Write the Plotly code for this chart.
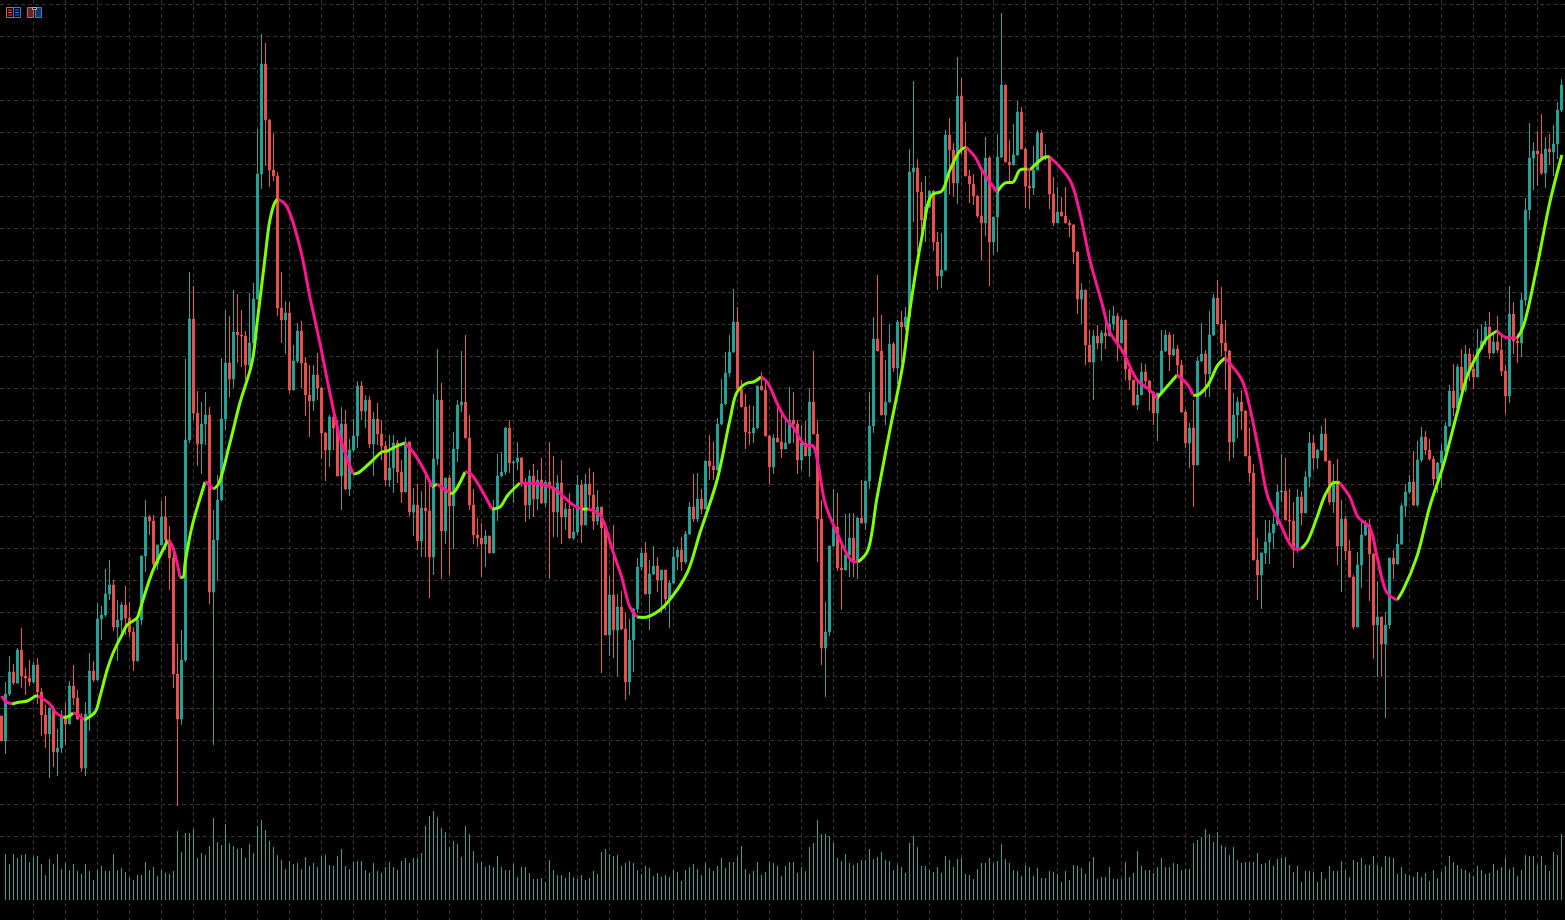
import plotly.graph_objects as go

close_ = [179,226,248,237,270,244,242,238,255,228,
205,186,212,168,172,204,196,234,222,201,
152,206,249,240,301,305,326,335,293,300,
315,302,288,259,300,364,403,399,356,375,
403,380,362,246,201,260,480,601,507,476,
496,505,328,380,420,501,557,541,588,585,
584,555,577,621,746,856,800,750,744,612,
600,607,530,559,589,557,525,519,545,532,
487,470,503,492,444,496,431,470,484,534,
509,520,476,501,486,474,440,452,477,448,
428,478,408,415,379,412,409,363,461,520,
389,442,414,471,515,518,482,415,385,382,
376,384,367,411,444,448,492,457,458,462,
437,415,444,421,440,417,438,433,408,437,
403,411,382,388,435,395,436,425,399,413,
392,285,325,290,313,291,238,280,311,353,
367,326,346,354,340,350,321,337,363,370,
358,386,413,401,421,411,459,454,450,496,
516,547,568,598,531,513,488,487,492,534,
530,484,453,482,478,471,477,500,496,460,
477,464,518,486,401,272,288,374,393,352,
350,365,382,358,402,397,439,494,581,569,
505,518,576,552,598,593,603,748,752,728,
700,713,729,678,644,650,785,770,737,824,
770,744,736,724,704,697,762,678,703,763,
835,758,755,765,808,771,734,732,750,787,
762,763,726,697,708,704,697,695,668,621,
630,575,558,584,577,587,584,596,604,577,
600,551,540,515,525,548,539,528,507,527,
569,585,565,571,555,508,477,492,455,559,
566,546,585,622,596,577,569,478,505,518,
509,464,447,360,345,367,378,387,396,428,
429,400,399,370,423,407,443,477,462,470,
486,459,418,439,374,401,369,343,293,355,
385,395,366,295,303,276,295,362,356,376,
414,428,438,415,460,483,470,461,441,457,
469,494,529,512,553,530,566,551,543,571,
579,593,567,578,570,549,524,606,579,577,
620,710,762,769,766,747,771,768,776,810,835]

open_ = [204,179,226,248,237,270,244,242,238,255,228,
205,186,212,168,172,204,196,234,222,201,
152,206,249,240,301,305,326,335,293,300,
315,302,288,259,300,364,403,399,356,375,
403,380,362,246,201,260,480,601,507,476,
496,505,328,380,420,501,557,541,588,585,
584,555,577,621,746,856,800,750,744,612,
600,607,530,559,589,557,525,519,545,532,
487,470,503,492,444,496,431,470,484,534,
509,520,476,501,486,474,440,452,477,448,
428,478,408,415,379,412,409,363,461,520,
389,442,414,471,515,518,482,415,385,382,
376,384,367,411,444,448,492,457,458,462,
437,415,444,421,440,417,438,433,408,437,
403,411,382,388,435,395,436,425,399,413,
392,285,325,290,313,291,238,280,311,353,
367,326,346,354,340,350,321,337,363,370,
358,386,413,401,421,411,459,454,450,496,
516,547,568,598,531,513,488,487,492,534,
530,484,453,482,478,471,477,500,496,460,
477,464,518,486,401,272,288,374,393,352,
350,365,382,358,402,397,439,494,581,569,
505,518,576,552,598,593,603,748,752,728,
700,713,729,678,644,650,785,770,737,824,
770,744,736,724,704,697,762,678,703,763,
835,758,755,765,808,771,734,732,750,787,
762,763,726,697,708,704,697,695,668,621,
630,575,558,584,577,587,584,596,604,577,
600,551,540,515,525,548,539,528,507,527,
569,585,565,571,555,508,477,492,455,559,
566,546,585,622,596,577,569,478,505,518,
509,464,447,360,345,367,378,387,396,428,
429,400,399,370,423,407,443,477,462,470,
486,459,418,439,374,401,369,343,293,355,
385,395,366,295,303,276,295,362,356,376,
414,428,438,415,460,483,470,461,441,457,
469,494,529,512,553,530,566,551,543,571,
579,593,567,578,570,549,524,606,579,577,
620,710,762,769,766,747,771,768,776,810]

high_ = [204,238,264,256,272,292,252,260,258,262,
232,215,212,214,191,210,217,239,255,230,
207,218,267,259,317,314,351,360,340,320,
318,334,318,293,302,364,420,405,405,365,
419,424,394,370,276,290,561,648,634,529,
518,528,513,410,445,562,610,604,630,626,
610,589,627,637,791,886,877,801,787,748,
648,619,618,575,597,599,563,555,555,567,
533,488,505,510,500,513,510,481,501,539,
539,525,524,508,517,500,479,485,485,480,
460,483,478,432,436,429,450,440,526,571,
537,442,445,488,520,569,585,505,431,402,
397,390,384,420,466,468,493,500,460,478,
463,442,450,456,450,462,440,478,464,445,
460,417,427,412,445,440,446,452,448,430,
413,395,344,395,326,329,307,301,312,362,
372,378,360,374,363,350,350,340,373,373,
383,389,418,446,447,431,459,485,478,502,
541,568,585,631,613,540,526,515,514,534,
548,540,485,486,516,505,500,533,528,500,
495,499,532,569,500,420,318,374,431,427,
380,406,407,407,403,440,439,528,603,645,
605,560,596,578,600,609,613,771,839,761,
738,744,729,730,688,687,790,802,777,863,
842,798,750,746,725,750,783,764,703,786,
907,835,780,796,819,813,773,750,774,790,
790,776,763,743,733,723,733,700,696,669,
637,630,590,590,595,590,600,610,614,607,
603,600,552,540,538,557,556,540,528,527,
590,590,588,586,575,560,510,497,520,563,
597,570,609,626,640,633,600,570,527,523,
530,510,492,456,382,367,400,400,405,435,
466,462,431,418,431,429,449,488,485,471,
494,502,460,456,461,420,404,380,345,368,
400,400,401,367,339,303,308,362,370,386,
417,436,445,469,479,493,489,481,464,458,
476,498,535,556,556,571,575,572,566,591,
596,599,608,586,604,586,555,634,618,586,
627,722,797,778,789,806,783,786,795,818,841]

low_ = [179,166,224,235,236,232,225,234,236,216,
184,172,142,153,144,167,175,196,215,200,
148,144,189,238,240,280,303,320,289,259,
285,285,283,249,259,295,348,385,354,350,
380,370,330,232,114,195,258,477,500,454,
446,475,316,175,339,419,490,523,532,557,
553,540,553,577,620,731,754,733,739,604,
577,566,527,530,557,532,504,483,509,520,
461,439,453,470,444,410,430,424,468,472,
500,492,472,444,475,460,434,433,427,437,
417,428,404,384,370,363,363,322,345,455,
341,376,345,371,458,508,482,410,376,373,
343,353,367,367,399,443,445,447,417,450,
433,398,401,403,410,416,413,341,383,383,
376,390,381,380,385,377,395,410,390,395,
247,285,264,262,244,290,220,225,248,307,
350,326,290,345,328,307,310,292,336,350,
349,356,385,398,398,406,411,440,440,450,
495,515,543,567,531,513,471,475,477,491,
530,484,436,446,478,462,471,476,477,446,
450,464,443,486,358,255,223,284,373,349,
310,350,343,343,341,397,390,431,487,569,
505,495,517,548,536,557,590,600,698,668,
680,678,712,669,630,632,649,725,724,716,
765,744,717,715,702,660,684,634,665,668,
762,758,737,755,764,771,712,711,725,750,
762,760,711,694,697,704,697,683,656,606,
596,555,558,520,571,559,571,584,590,559,
577,540,530,515,510,548,535,509,495,479,
525,568,549,564,543,507,472,452,413,456,
558,523,523,584,596,564,530,459,462,482,
490,464,438,360,320,311,356,356,371,394,
418,400,380,352,367,395,407,433,450,451,
469,459,415,407,355,328,360,343,291,293,
332,384,319,261,243,244,202,291,341,356,
375,403,426,414,413,458,465,459,434,427,
432,468,493,504,512,518,528,539,531,543,
570,575,561,566,567,544,506,517,566,557,
563,614,700,730,734,745,732,755,744,761,808]

volume = [0,138,108,138,126,135,138,114,129,132,108,
75,123,108,138,93,111,90,108,87,78,
108,87,60,90,102,87,87,138,90,96,
84,69,60,75,75,114,90,99,72,90,
81,78,87,207,144,201,201,213,126,141,
135,162,246,174,165,228,171,162,153,156,
126,168,141,222,240,210,177,159,135,120,
93,117,108,111,93,129,102,111,99,132,
135,105,102,132,153,102,93,114,117,117,
90,81,111,87,81,99,114,99,90,117,
126,111,126,126,141,222,252,267,249,216,
204,159,177,168,129,222,198,147,111,114,
99,105,99,132,99,90,90,108,69,
99,99,81,63,63,66,54,120,90,75,
75,66,84,69,63,75,60,66,87,78,
144,153,138,132,135,102,111,117,111,90,
78,102,96,72,81,69,75,69,90,84,
57,90,99,108,93,75,111,96,87,102,
126,96,114,114,129,162,93,78,87,114,
75,84,114,111,102,72,102,114,114,81,
99,87,159,171,240,198,198,192,171,126,
117,138,111,105,111,120,120,153,123,129,
144,120,117,90,105,99,81,171,192,159,
102,102,90,84,99,81,132,120,99,123,
126,78,75,63,93,111,111,126,111,117,
168,123,111,90,87,72,105,99,72,96,
66,66,87,84,78,54,87,60,105,102,
96,78,114,129,63,69,69,99,63,63,
63,114,69,81,147,102,90,90,81,99,
126,99,99,111,108,90,93,93,171,180,
189,213,198,174,204,165,159,135,159,120,
111,114,114,114,141,108,111,120,102,123,
126,129,105,84,102,54,87,87,84,54,
84,63,102,87,87,117,90,69,120,114,
126,105,105,132,105,99,132,129,126,78,
99,78,75,69,84,69,81,57,90,66,
84,102,132,114,105,93,90,81,72,102,
90,78,81,108,90,99,126,93,99,72,
90,135,132,132,105,132,105,87,144,135,198]

ma_bar = [0.1,0.9,2.6,4.6,6.4,8.6,9.1,12.1,13.4,15.4,16.4,17.9,18.9,20.6,23.4,24.6,26.4,27.9,30.1,31.4,
33.9,34.6,36.4,37.9,39.1,41.6,42.6,43.9,44.6,45.4,45.9,47.6,50.9,51.4,52.9,54.1,57.1,59.6,62.6,63.9,
65.9,67.1,68.4,69.1,71.1,74.6,77.1,79.6,82.1,84.6,87.9,89.1,92.1,95.1,96.4,98.9,100.9,102.9,105.9,107.6,
108.9,112.1,112.9,115.9,117.1,122.6,124.6,126.6,129.6,134.6,137.9,142.9,145.1,146.6,149.6,152.9,155.1,157.1,158.9,161.4,
164.6,166.6,171.4,174.6,178.9,182.1,183.9,186.4,187.9,189.9,191.4,194.1,195.9,197.9,200.9,202.9,204.1,205.9,208.9,212.6,
214.1,216.4,218.9,222.1,225.4,227.1,230.1,232.6,235.1,237.1,239.6,241.1,243.4,245.1,248.9,250.9,252.9,254.6,256.4,257.1,
260.9,262.1,267.1,269.6,272.1,275.1,277.1,280.4,283.9,287.1,288.9,293.9,296.6,297.9,299.1,301.6,304.1,305.9,310.1,312.1,
314.6,316.6,319.6,322.9,324.9,326.4,328.9,330.9,332.9,334.6,337.1,339.1,342.1,343.9,346.4,348.9,350.4,353.9,357.1,360.4,
363.9,366.6,369.6,371.4,373.9,375.9,378.9,380.4,383.9,387.1,390.1]

ma_val = [224,219,216,218,219,224,224,216,208,203,203,207,206,200,208,223,250,267,285,295,
302,310,333,350,360,380,375,357,343,343,357,393,438,437,431,435,477,517,557,597,
663,700,718,721,715,673,623,577,527,483,446,447,457,468,469,474,477,468,448,433,
436,427,427,448,447,411,413,425,437,436,432,415,411,411,405,368,342,313,303,303,
310,318,347,387,440,500,528,537,538,543,538,515,502,493,475,474,457,417,387,359,
358,368,423,490,557,610,683,725,729,750,769,773,763,750,728,737,738,750,751,750,
763,763,740,707,660,617,588,568,540,530,522,545,535,525,525,535,555,562,540,512,
463,423,397,372,371,378,403,425,437,437,423,403,392,363,327,320,330,364,414,454,
507,546,570,582,589,583,582,593,654,718,765]

grid_bars = list(range(8, 391, 8))
grid_prices = [915.5 - 32 * i for i in range(27)]
bars = list(range(len(close_)))

UP = "#26a69a"
DOWN = "#ef5350"
MA_UP = "#7fff00"
MA_DOWN = "#ff1493"
W, H = 1565, 920

fig = go.Figure()
fig.add_trace(go.Bar(x=bars, y=volume, width=0.25, yaxis="y2",
                     marker=dict(color=UP, line=dict(width=0)),
                     hoverinfo="skip", showlegend=False))
fig.add_trace(go.Candlestick(
    x=bars, open=open_, high=high_, low=low_, close=close_,
    increasing=dict(line=dict(color=UP, width=1), fillcolor=UP),
    decreasing=dict(line=dict(color=DOWN, width=1), fillcolor=DOWN),
    whiskerwidth=0, hoverinfo="skip", showlegend=False))

# Split the moving average into runs of one direction, each kept as a smooth curve.
runs = {True: ([], []), False: ([], [])}
start = 0
for i in range(1, len(ma_val)):
    here = ma_val[i] >= ma_val[i - 1]
    ends = i == len(ma_val) - 1 or (ma_val[i + 1] >= ma_val[i]) != here
    if ends:
        xs, ys = runs[here]
        xs += ma_bar[start:i + 1] + [None]
        ys += ma_val[start:i + 1] + [None]
        start = i

for colour, rising in ((MA_UP, True), (MA_DOWN, False)):
    fig.add_trace(go.Scatter(x=runs[rising][0], y=runs[rising][1], mode="lines",
                             line=dict(color=colour, width=3, shape="spline", smoothing=1.0),
                             hoverinfo="skip", showlegend=False))


def px(x):
    return x / W


def py(y):
    return 1 - y / H


def rect(x0, y0, x1, y1, line, fill="rgba(0,0,0,0)"):
    return dict(type="rect", xref="paper", yref="paper", x0=px(x0), x1=px(x1), y0=py(y0), y1=py(y1),
                line=dict(color=line, width=1), fillcolor=fill, layer="above")


def seg(x0, y0, x1, y1, line):
    return dict(type="line", xref="paper", yref="paper", x0=px(x0), x1=px(x1), y0=py(y0), y1=py(y1),
                line=dict(color=line, width=1), layer="above")


ICON_RED = "#ef5350"
ICON_BLUE = "#2d7ff0"
icons = [
    rect(6.5, 7.5, 13.5, 17.5, ICON_RED), rect(13.5, 7.5, 20.5, 17.5, ICON_BLUE),
    seg(8, 10, 12, 10, ICON_RED), seg(8, 12.5, 12, 12.5, ICON_RED), seg(8, 15, 12, 15, ICON_RED),
    seg(15, 10, 19, 10, ICON_BLUE), seg(15, 12.5, 19, 12.5, ICON_BLUE), seg(15, 15, 19, 15, ICON_BLUE),
    rect(27.5, 7.5, 33.5, 17.5, ICON_RED, "#5a2a20"), rect(35.5, 7.5, 41.5, 17.5, ICON_BLUE, "#123a66"),
    rect(32.5, 7.5, 36.5, 9.5, "#b0b0b0", "#000000"),
]

fig.update_layout(
    width=W, height=H, margin=dict(l=0, r=0, t=0, b=0),
    paper_bgcolor="#000000", plot_bgcolor="#000000",
    barmode="overlay", boxgap=0.35, showlegend=False, shapes=icons,
    xaxis=dict(range=[-0.375, 390.875], tickmode="array", tickvals=grid_bars, showticklabels=False,
               ticks="", showgrid=True, gridcolor="#333333", griddash="4px,3px", gridwidth=1,
               zeroline=False, showline=False, rangeslider=dict(visible=False)),
    yaxis=dict(range=[0, 920], tickmode="array", tickvals=grid_prices, showticklabels=False,
               ticks="", showgrid=True, gridcolor="#333333", griddash="4px,3px", gridwidth=1,
               zeroline=False, showline=False),
    yaxis2=dict(overlaying="y", range=[-60, 2700], showticklabels=False, ticks="",
                showgrid=False, zeroline=False, showline=False),
)

fig.write_html("out.html", config={"displayModeBar": False, "staticPlot": True},
               post_script="document.body.style.margin='0';document.body.style.background='#000';document.body.style.overflow='hidden';")
